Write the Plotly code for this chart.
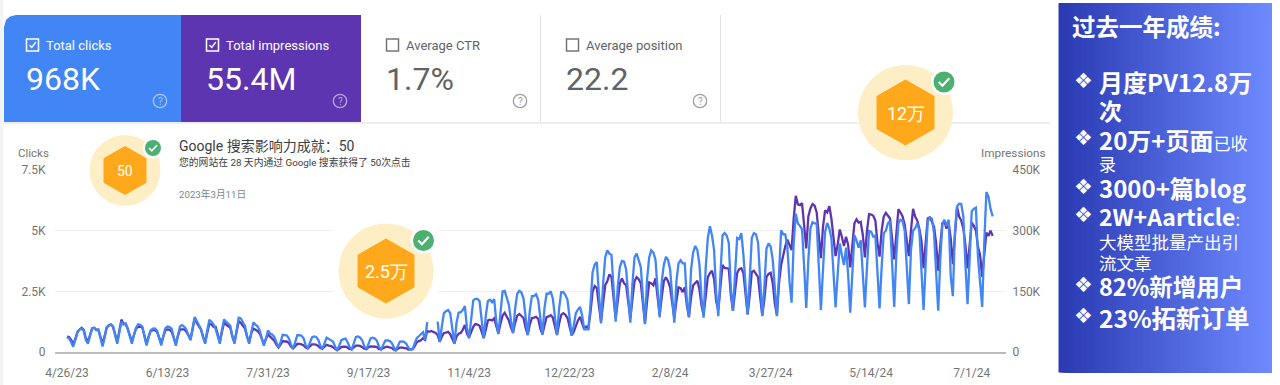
import plotly.graph_objects as go
import pandas as pd

START_DATE = "2023-04-26"
x_tick_dates = ["2023-04-26","2023-06-13","2023-07-31","2023-09-17","2023-11-04","2023-12-22","2024-02-08","2024-03-27","2024-05-14","2024-07-01"]
x_tick_labels = ["4/26/23","6/13/23","7/31/23","9/17/23","11/4/23","12/22/23","2/8/24","3/27/24","5/14/24","7/1/24"]
clicks_ticks = [0, 2500, 5000, 7500]
clicks_tick_labels = ["0", "2.5K", "5K", "7.5K"]
impr_ticks = [0, 150, 300, 450]
impr_tick_labels = ["0", "150K", "300K", "450K"]

clicks = [620,560,400,
220,500,800,930,960,880,500,
340,680,980,1000,900,920,600,
230,600,1030,1090,1140,1060,720,
340,800,1250,1130,1170,950,620,
340,700,1000,1140,1120,1050,580,
270,620,900,960,970,880,560,
270,650,980,1050,1030,960,580,
260,700,1060,1110,1040,920,650,
480,1000,1440,1280,1100,950,600,
340,900,1330,1250,1130,950,650,
340,900,1340,1250,1180,1080,620,
340,900,1410,1380,1250,1080,640,
340,800,1220,1130,1060,900,560,
260,550,890,760,720,620,350,
180,420,710,700,680,560,300,
140,400,690,690,670,560,280,
170,390,600,640,620,500,260,
140,350,590,540,480,430,240,
70,260,480,530,550,400,200,
110,350,620,640,590,470,230,
120,380,560,590,560,460,220,
100,300,470,480,460,380,180,
55,250,430,440,420,340,170,
100,110,340,570,650,720,820,
490,1230,None,None,None,None,1250,
420,1050,1600,1680,1730,1600,900,
330,1200,1620,1640,1730,1890,1000,
560,1500,2130,2190,2190,2100,1200,
560,1500,2100,2150,2050,2180,1250,
740,1800,2500,2520,2250,1950,1300,
770,1800,2400,2520,2450,2200,1300,
700,1700,2300,2300,2380,2150,1300,
700,1800,2400,2400,2500,2200,1300,
700,1800,2470,2470,2350,2150,1300,
670,1100,1600,1750,1860,1500,950,
930,930,2000,3300,3600,3710,2400,
1180,2800,3900,4190,4050,4000,2500,
1250,2700,3500,3750,3720,3400,2200,
1210,2800,3900,4060,3800,3500,2300,
1150,3000,3900,4190,4100,3800,2400,
1420,2900,3600,3920,3800,3400,2200,
1210,2900,3650,3780,3650,3650,2100,
1420,3400,4100,4370,4200,3600,2200,
1410,3500,4700,5180,4800,4200,2400,
1480,3400,4800,4900,4800,4500,2600,
1700,3400,4700,4650,4900,4000,2700,
1550,3000,4700,4900,4850,4500,2900,
1480,2700,4250,4470,4350,3800,2500,
1480,3200,5010,4850,4850,4300,2900,
2030,4500,5700,5300,5200,5050,3500,
1820,3800,5100,5350,5300,5300,3600,
1730,3400,4950,5320,5100,4700,3200,
1840,3200,4470,4000,3580,4300,3200,
1620,3200,4810,4600,4300,4600,3000,
1840,3500,4990,4950,4750,4800,3200,
1800,3500,4900,5000,5300,5400,3300,
1860,4000,5300,5450,5400,5000,3200,
1970,4200,5000,5100,5300,5000,3300,
1730,3600,5400,5530,5500,4900,3000,
1700,3800,5300,5450,5200,5450,3100,
2300,5000,6000,6110,6100,5600,3600,
1970,3800,5800,5900,5950,3900,3000,
1860,4500,6590,6400,5900,5590]

impressions_k = [38,37,30,
20,32,50,55,60,55,35,
25,42,58,60,55,55,38,
20,40,60,66,68,62,42,
25,52,80,70,70,58,40,
26,42,58,62,63,60,38,
20,38,52,54,54,50,34,
22,38,54,56,55,50,34,
20,40,56,56,56,50,42,
32,56,84,72,62,55,38,
24,48,70,68,62,62,45,
25,50,72,68,64,60,38,
25,50,76,72,66,58,38,
24,46,58,55,52,46,32,
20,32,44,38,34,28,18,
11,18,27,26,26,22,13,
9,15,20,20,19,16,11,
9,15,19,19,18,15,10,
8,13,18,16,15,12,8,
4,8,12,13,13,11,7,
7,12,16,16,15,12,8,
7,12,14,14,13,12,7,
7,10,12,13,12,10,6,
4,8,11,11,10,9,6,
6,7,14,24,27,29,34,
30,52,50,52,50,47,42,
25,38,47,48,50,44,33,
21,38,45,47,55,67,45,
36,50,62,69,68,65,48,
35,55,78,80,78,83,62,
46,70,90,97,88,78,60,
48,72,90,94,90,84,60,
42,68,84,85,87,82,58,
44,68,86,88,91,85,60,
42,70,92,96,92,84,58,
41,50,65,78,87,72,55,
63,60,100,150,163,158,115,
75,120,165,175,192,185,125,
83,125,170,182,170,165,120,
83,130,175,185,180,170,125,
71,125,172,170,165,182,130,
91,135,175,185,175,160,120,
83,125,160,158,148,160,115,
87,135,165,172,176,155,115,
91,145,185,195,201,180,125,
104,160,215,208,206,206,140,
102,150,195,205,207,195,145,
93,140,198,201,192,185,135,
91,130,185,193,196,170,120,
91,170,215,240,262,278,265,
252,330,386,365,363,368,320,
256,335,355,366,362,345,290,
232,310,350,345,361,330,280,
237,265,303,285,262,285,265,
209,275,318,328,320,322,290,
234,300,341,340,337,325,270,
236,300,335,344,338,330,280,
229,290,353,345,335,315,270,
237,300,354,335,325,305,275,
207,280,330,333,322,310,270,
201,265,318,322,305,320,280,
217,300,359,335,325,305,265,
207,260,320,312,300,260,240,
186,240,295,287,300,287]

W, H = 1280, 385
def X(p): return p / W
def Y(p): return 1 - p / H

dates = pd.date_range(START_DATE, periods=len(clicks), freq="D")

fig = go.Figure()
fig.add_trace(go.Scatter(x=dates, y=impressions_k, yaxis="y", mode="lines", name="Impressions",
                         line=dict(color="#5e35b1", width=2.3), hoverinfo="skip"))
fig.add_trace(go.Scatter(x=dates, y=clicks, yaxis="y2", mode="lines", name="Clicks",
                         line=dict(color="#4285f4", width=2.3), connectgaps=False, hoverinfo="skip"))

shapes = []
ann = []
def rect(x0, y0, x1, y1, fill, line=None, lw=0):
    shapes.append(dict(type="rect", xref="paper", yref="paper", x0=X(x0), x1=X(x1), y0=Y(y0), y1=Y(y1),
                       fillcolor=fill, line=dict(color=line or "rgba(0,0,0,0)", width=lw), layer="above"))
def circle(cx, cy, r, fill, line=None, lw=0):
    shapes.append(dict(type="circle", xref="paper", yref="paper", x0=X(cx-r), x1=X(cx+r), y0=Y(cy-r), y1=Y(cy+r),
                       fillcolor=fill, line=dict(color=line or "rgba(0,0,0,0)", width=lw), layer="above"))
def path(pts, fill=None, line=None, lw=0, close=False):
    d = "M " + " L ".join(f"{X(a):.5f},{Y(b):.5f}" for a, b in pts) + (" Z" if close else "")
    shapes.append(dict(type="path", xref="paper", yref="paper", path=d, fillcolor=fill or "rgba(0,0,0,0)",
                       line=dict(color=line or "rgba(0,0,0,0)", width=lw), layer="above"))
def text(x, y, s, size, color, anchor="left", font="Roboto"):
    ann.append(dict(xref="paper", yref="paper", x=X(x), y=Y(y), text=s, showarrow=False, xanchor=anchor,
                    yanchor="middle", font=dict(size=size, color=color, family=font), borderpad=0, borderwidth=0))

# page furniture
rect(0, 0, 3.5, 385, "#f1f3f4")
rect(3.5, 122, 1050, 124, "#eeeeee")
rect(82, 163, 437, 177, "white")
rect(333, 222, 438, 319, "white")

# metric cards
path([(4,122),(4,27),(6,20),(10,16.5),(16,15),(181,15),(181,122)], fill="#4285f4", close=True)
rect(181, 15, 361, 122, "#5e35b1")
rect(540, 15, 541, 122, "#e0e0e0")
rect(720, 15, 721, 122, "#e0e0e0")

cards = [
    (26, "Total clicks", "968K", "white", True, 160),
    (206, "Total impressions", "55.4M", "white", True, 340),
    (386, "Average CTR", "1.7%", "#5f6368", False, 520),
    (566, "Average position", "22.2", "#5f6368", False, 700),
]
for cx, label, val, col, checked, qx in cards:
    rect(cx+0.5, 39, cx+12.5, 51, "rgba(0,0,0,0)", col if checked else "#757575", 1.5)
    if checked:
        path([(cx+3.5,45),(cx+5.8,47.5),(cx+9.8,42)], line=col, lw=1.3)
    text(cx+20, 45, label, 13, col if checked else "#5f6368")
    text(cx, 79, val, 32, col)
    qc = "rgba(255,255,255,0.55)" if checked else "#9e9e9e"
    circle(qx, 101, 6.7, "rgba(0,0,0,0)", qc, 1.3)
    text(qx, 101.5, "?", 10, qc, "center")

# badges
def badge(cx, cy, r, hx, hy, label, size, kx, ky, kr):
    circle(cx, cy, r, "#fdeec6")
    path([(cx,cy-hy),(cx+hx,cy-hy/2),(cx+hx,cy+hy/2),(cx,cy+hy),(cx-hx,cy+hy/2),(cx-hx,cy-hy/2)],
         fill="#ffa81c", line="#ffa81c", lw=1, close=True)
    text(cx, cy+0.5, label, size, "white", "center")
    circle(kx, ky, kr+2.5, "white")
    circle(kx, ky, kr, "#4cb071")
    s = kr / 10
    path([(kx-5*s,ky),(kx-1.5*s,ky+3.5*s),(kx+5*s,ky-3.5*s)], line="white", lw=2*s)

badge(125, 170.5, 35.5, 21, 24, "50", 14, 153, 148, 8)
badge(386, 271, 47.5, 28, 32, "2.5万", 18, 423.5, 240.5, 10.5)
badge(905.5, 112.5, 47.5, 28.5, 32.5, "12万", 18, 944, 82, 10.5)

# achievement text
text(179, 146, "Google 搜索影响力成就：50", 14, "#3c4043", font="Roboto, Noto Sans CJK SC")
text(179, 162, "您的网站在 28 天内通过 Google 搜索获得了 50次点击", 9.8, "#3c4043", font="Roboto, Noto Sans CJK SC")
text(179, 194, "2023年3月11日", 9.7, "#80868b", font="Roboto, Noto Sans CJK SC")

text(33.5, 153, "Clicks", 11.5, "#757575", "center")
text(1013, 153, "Impressions", 11.8, "#757575", "center")

# right panel with left-to-right gradient
PX0, PX1, PY0, PY1 = 1058.5, 1271.5, 3, 372.5
steps = 107
c0, c1 = (42, 58, 178), (110, 138, 255)
for i in range(steps):
    t = i / (steps - 1)
    col = "rgb(%d,%d,%d)" % tuple(round(a + (b - a) * t) for a, b in zip(c0, c1))
    rect(PX0 + (PX1 - PX0) * i / steps, PY0, PX1, PY1, col)

CJK = "Noto Sans CJK SC"
def b(s): return f"<b>{s}</b>"
text(1072, 26, b("过去一年成绩:"), 23.5, "white", font=CJK)
for yy in [81, 137.5, 186.5, 214.5, 285, 316]:
    text(1083.5, yy, "❖", 21, "white", "center", "DejaVu Sans")
text(1099, 82, b("月度PV12.8万"), 24, "white", font=CJK)
text(1099, 110, b("次"), 23, "white", font=CJK)
text(1099, 139, b("20万+页面") + "<span style='font-size:17px'>已收</span>", 24, "white", font=CJK)
text(1099, 163, "录", 17, "white", font=CJK)
text(1099, 188, b("3000+篇blog"), 24, "white", font=CJK)
text(1099, 216, b("2W+Aarticle") + "<span style='font-size:17px'>:</span>", 23, "white", font=CJK)
text(1099, 241, "大模型批量产出引", 17.5, "white", font=CJK)
text(1099, 262, "流文章", 17.5, "white", font=CJK)
text(1099, 286, b("82%新增用户"), 23.5, "white", font=CJK)
text(1099, 317, b("23%拓新订单"), 24.5, "white", font=CJK)

tick_font = dict(family="Roboto", size=12, color="#757575")
fig.update_layout(
    width=W, height=H, autosize=False, margin=dict(l=0, r=0, t=0, b=0, autoexpand=False),
    paper_bgcolor="white", plot_bgcolor="white", showlegend=False,
    shapes=shapes, annotations=ann,
    xaxis=dict(type="date", domain=[X(55), X(1006)], range=["2023-04-20 07:00", "2024-07-17 09:00"],
               tickvals=x_tick_dates, ticktext=x_tick_labels, tickfont=tick_font, tickangle=0,
               ticks="outside", ticklen=9, tickcolor="rgba(0,0,0,0)", showgrid=False,
               showline=True, linecolor="#bdbdbd", linewidth=2, zeroline=False, anchor="y"),
    yaxis=dict(domain=[Y(352), Y(170)], range=[0, 450], side="right", anchor="x",
               tickvals=impr_ticks, ticktext=impr_tick_labels, tickfont=tick_font, ticks="outside",
               ticklen=3, tickcolor="rgba(0,0,0,0)", gridcolor="#eeeeee", gridwidth=1,
               zeroline=False, showline=False),
    yaxis2=dict(domain=[Y(352), Y(170)], range=[0, 7500], overlaying="y", side="left", anchor="x",
                tickvals=clicks_ticks, ticktext=clicks_tick_labels, tickfont=tick_font, ticks="outside",
                ticklen=6, tickcolor="rgba(0,0,0,0)", showgrid=False, zeroline=False, showline=False),
)
fig.write_html("out.html", config=dict(displayModeBar=False),
               post_script="document.body.style.margin='0';document.documentElement.style.overflow='hidden';")
